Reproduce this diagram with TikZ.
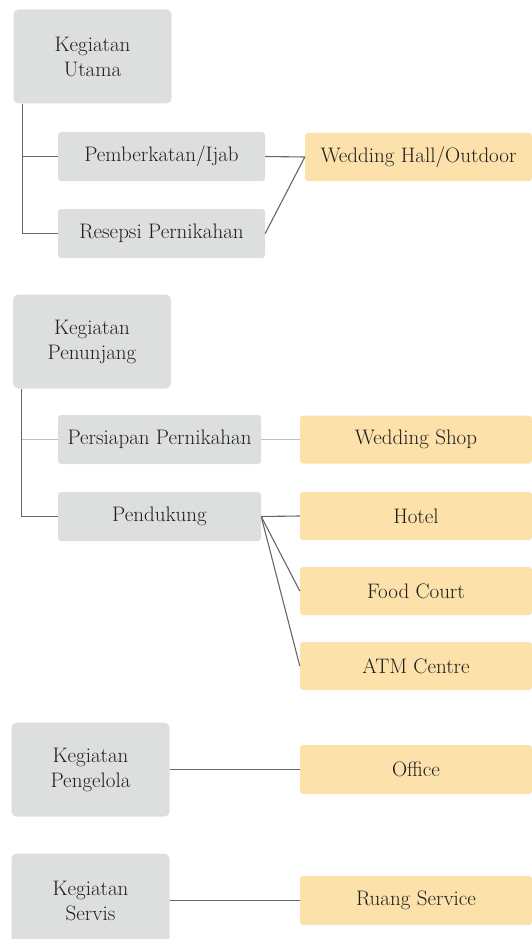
\documentclass[tikz,border=0pt]{standalone}
\usepackage{fontspec}
\definecolor{boxgrey}{RGB}{221,222,222}
\definecolor{boxgold}{RGB}{252,225,170}
\definecolor{txtgrey}{RGB}{30,30,30}
\tikzset{
  kegiatan/.style={fill=boxgrey,rounded corners=5pt,minimum width=158,minimum height=94,
    align=center,text=txtgrey,font=\fontsize{21}{25}\selectfont},
  sub/.style={fill=boxgrey,rounded corners=3pt,minimum height=49,
    text=txtgrey,font=\fontsize{21}{24}\selectfont},
  ruang/.style={fill=boxgold,rounded corners=3pt,minimum width=232,minimum height=48,
    text=txtgrey,font=\fontsize{21}{24}\selectfont},
  link/.style={draw=black!60,line width=1.1pt},
  softlink/.style={draw=black!25,line width=1.1pt}
}
\begin{document}
\begin{tikzpicture}[x=1pt,y=-1pt]
   \useasboundingbox (0,0) rectangle (532,939);
   \clip (0,0) rectangle (532,939);
   % kegiatan utama
   \node[kegiatan] (utama) at (92.5,56.5) {Kegiatan\\Utama};
   \node[sub,minimum width=207] (pemberkatan) at (161.5,156.5) {Pemberkatan/Ijab};
   \node[sub,minimum width=207] (resepsi) at (161.5,233.5) {Resepsi Pernikahan};
   \node[ruang,minimum width=227] (hall) at (418.5,157) {Wedding Hall/Outdoor};
   \draw[link] ([xshift=9]utama.south west) |- (resepsi.west);
   \draw[link] ([xshift=9]utama.south west |- pemberkatan.west) -- (pemberkatan.west);
   \draw[link] (pemberkatan.east) -- (hall.west);
   \draw[link] (resepsi.east) -- (hall.west);
   % kegiatan penunjang
   \node[kegiatan] (penunjang) at (92,341.5) {Kegiatan\\Penunjang};
   \node[sub,minimum width=203] (persiapan) at (159.5,439.5) {Persiapan Pernikahan};
   \node[sub,minimum width=203] (pendukung) at (159.5,516.5) {Pendukung};
   \node[ruang] (shop) at (416,439.5) {Wedding Shop};
   \node[ruang] (hotel) at (416,516) {Hotel};
   \node[ruang] (food) at (416,591) {Food Court};
   \node[ruang] (atm) at (416,666) {ATM Centre};
   \draw[link] ([xshift=9]penunjang.south west) |- (pendukung.west);
   \draw[softlink] ([xshift=9]penunjang.south west |- persiapan.west) -- (persiapan.west);
   \draw[softlink] (persiapan.east) -- (shop.west);
   \foreach \r in {hotel,food,atm}
     \draw[link] (pendukung.east) -- (\r.west);
   % kegiatan pengelola
   \node[kegiatan] (pengelola) at (90.5,769.5) {Kegiatan\\Pengelola};
   \node[ruang,minimum height=49] (office) at (416,769.5) {Office};
   \draw[link] (pengelola.east) -- (office.west);
   % kegiatan servis
   \node[kegiatan] (servis) at (90.5,900.5) {Kegiatan\\Servis};
   \node[ruang,minimum height=49] (service) at (416,900.5) {Ruang Service};
   \draw[link] (servis.east) -- (service.west);
\end{tikzpicture}
\end{document}
